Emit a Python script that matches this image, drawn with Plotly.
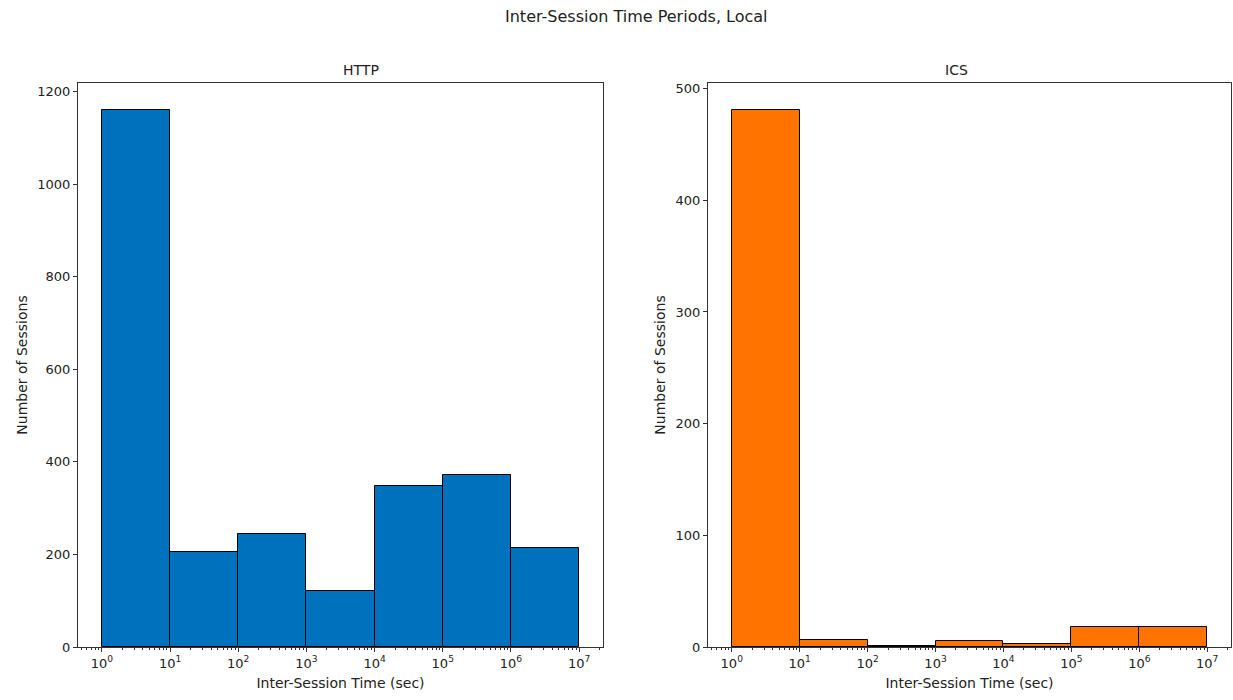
import numpy as np
import plotly.graph_objects as go

# Histogram bins: edges at 10^0 ... 10^7 (exponents)
bin_exponents = [0, 1, 2, 3, 4, 5, 6]
http_counts = [1160, 205, 244, 121, 347, 372, 214]
ics_counts = [481, 6, 1, 5, 3, 18, 18]
tick_exps = [0, 1, 2, 3, 4, 5, 6, 7]
tick_labels = ["10<sup>%d</sup>" % e for e in tick_exps]

http_color = "#0072BD"
ics_color = "#FF7400"

W, H = 1233, 700
def fx(px):
    return px / W
def fy(py):
    return 1 - py / H

fig = go.Figure()
centers = [e + 0.5 for e in bin_exponents]
fig.add_trace(go.Bar(x=centers, y=http_counts, width=1, marker=dict(color=http_color, line=dict(color="black", width=1)),
                     xaxis="x", yaxis="y", showlegend=False))
fig.add_trace(go.Bar(x=centers, y=ics_counts, width=1, marker=dict(color=ics_color, line=dict(color="black", width=1)),
                     xaxis="x2", yaxis="y2", showlegend=False))

minor_vals = [k + np.log10(m) for k in range(-1, 8) for m in range(2, 10)]
minor_vals = [v for v in minor_vals if -0.35 <= v <= 7.35]

tick_font = dict(family="DejaVu Sans", size=13, color="#222")
label_font = dict(family="DejaVu Sans", size=14, color="#222")
axis_common = dict(showline=True, linecolor="#333", linewidth=1, mirror=True, ticks="outside",
                   ticklen=4, tickcolor="#333", showgrid=False, zeroline=False, tickfont=tick_font,
                   automargin=False)

xcommon = dict(axis_common, range=[-0.35, 7.35], tickmode="array", tickvals=tick_exps, ticktext=tick_labels,
               minor=dict(tickmode="array", tickvals=minor_vals, ticks="outside", ticklen=2, tickcolor="#333"),
               title=dict(text="Inter-Session Time (sec)", font=label_font, standoff=8))

fig.update_layout(
    width=W, height=H, margin=dict(l=0, r=0, t=0, b=0),
    plot_bgcolor="white", paper_bgcolor="white", bargap=0,
    font=tick_font,
    xaxis=dict(xcommon, domain=[fx(78), fx(603)], anchor="y"),
    yaxis=dict(axis_common, domain=[fy(647), fy(83)], range=[0, 1219], tickvals=[0, 200, 400, 600, 800, 1000, 1200],
               anchor="x", title=dict(text="Number of Sessions", font=label_font, standoff=6)),
    xaxis2=dict(xcommon, domain=[fx(708), fx(1231)], anchor="y2"),
    yaxis2=dict(axis_common, domain=[fy(647), fy(83)], range=[0, 505], tickvals=[0, 100, 200, 300, 400, 500],
                anchor="x2", title=dict(text="Number of Sessions", font=label_font, standoff=6)),
    annotations=[
        dict(text="Inter-Session Time Periods, Local", x=fx(636), y=fy(17), xref="paper", yref="paper",
             showarrow=False, font=dict(family="DejaVu Sans", size=16, color="#222"), yanchor="middle"),
        dict(text="HTTP", x=(fx(78) + fx(603)) / 2, y=fy(70), xref="paper", yref="paper",
             showarrow=False, font=dict(family="DejaVu Sans", size=14, color="#222"), yanchor="middle"),
        dict(text="ICS", x=(fx(708) + fx(1231)) / 2, y=fy(70), xref="paper", yref="paper",
             showarrow=False, font=dict(family="DejaVu Sans", size=14, color="#222"), yanchor="middle"),
    ],
)

fig.write_html("out.html", config={"displayModeBar": False},
               post_script="document.body.style.margin='0';document.body.style.overflow='hidden';")
